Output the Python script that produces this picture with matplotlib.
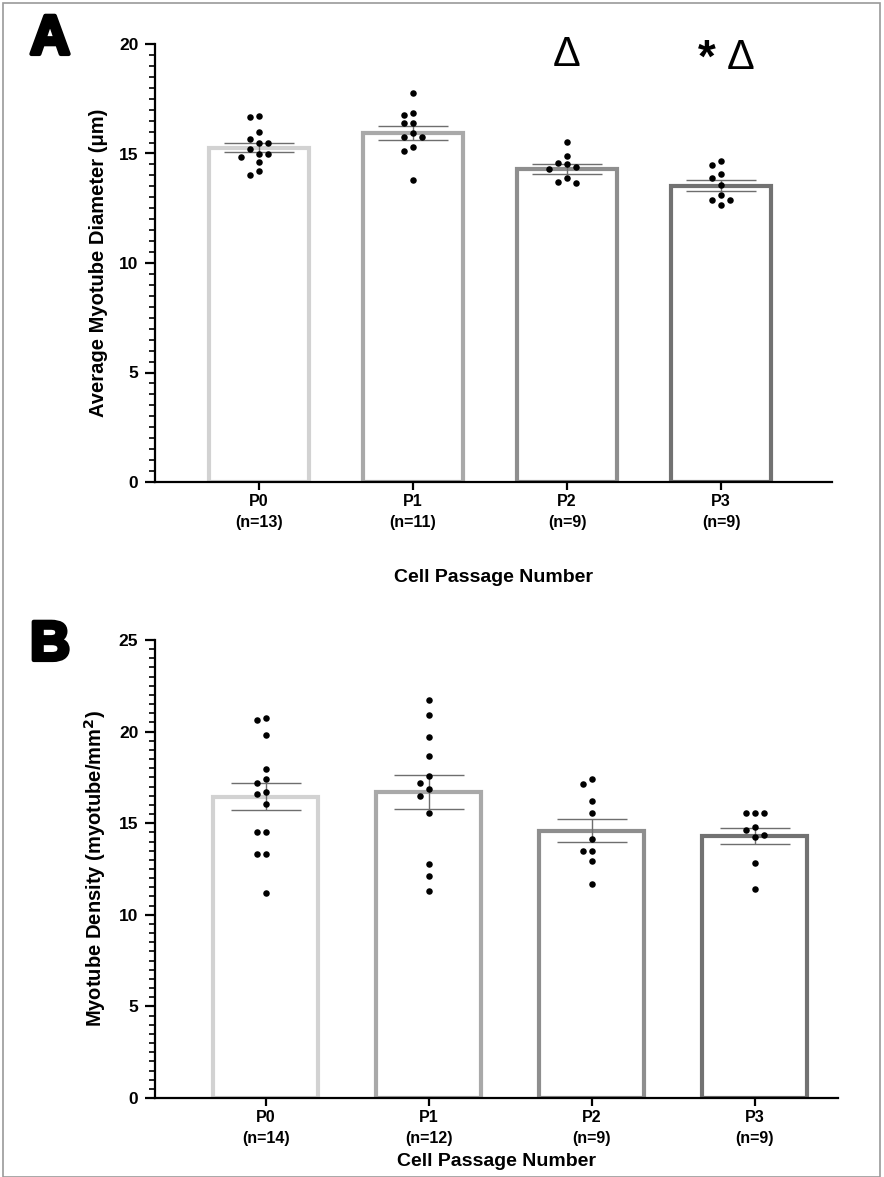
import matplotlib
matplotlib.use("Agg")
import matplotlib.pyplot as plt
import numpy as np
from matplotlib.patches import Rectangle
from matplotlib.ticker import MultipleLocator
import matplotlib.patheffects as pe

plt.rcParams['font.family'] = ['Liberation Sans', 'DejaVu Sans']

# ---- data ----
passages = ["P0", "P1", "P2", "P3"]
n_diam = [13, 11, 9, 9]
n_dens = [14, 12, 9, 9]

diam_mean = [15.27, 15.95, 14.30, 13.52]
diam_sem = [0.22, 0.32, 0.22, 0.25]
diam_p0 = [16.65, 16.72, 15.98, 15.65, 15.47, 15.47, 15.20, 14.98, 14.98, 14.86, 14.61, 14.21, 14.00]
diam_p1 = [17.75, 16.83, 16.77, 16.38, 16.38, 15.92, 15.74, 15.74, 15.31, 15.13, 13.79]
diam_p2 = [15.54, 14.90, 14.55, 14.50, 14.40, 14.28, 13.90, 13.64, 13.69]
diam_p3 = [14.68, 14.48, 14.07, 13.90, 13.56, 13.10, 12.88, 12.88, 12.64]

dens_mean = [16.45, 16.70, 14.60, 14.30]
dens_sem = [0.75, 0.93, 0.65, 0.43]
dens_p0 = [20.76, 20.63, 19.81, 17.94, 17.40, 17.21, 16.72, 16.59, 16.05, 14.54, 14.54, 13.3, 13.3, 11.2]
dens_p1 = [21.72, 20.92, 19.72, 18.65, 17.60, 17.20, 16.85, 16.48, 15.57, 12.8, 12.1, 11.3]
dens_p2 = [17.40, 17.15, 16.21, 15.57, 14.12, 13.48, 13.48, 12.94, 11.7]
dens_p3 = [15.57, 15.57, 15.57, 14.78, 14.63, 14.36, 14.23, 12.81, 11.4]

bar_colors = ["#d2d2d2", "#a9a9a9", "#8e8e8e", "#727272"]

W, H = 884, 1177
fig = plt.figure(figsize=(W / 100, H / 100), dpi=100)
fig.patches.append(Rectangle((3 / W, 0), (W - 7) / W, (H - 3) / H, transform=fig.transFigure,
                             fill=False, edgecolor="#9a9a9a", linewidth=1.2))


def swarm_offsets(vals, ymax, ax_h_px, unit_px, dot_px=8.0):
    """Simple beeswarm: spread points that would overlap vertically."""
    px_per_val = ax_h_px / ymax
    order = np.argsort(vals)[::-1]
    placed = []
    offs = np.zeros(len(vals))
    step = 0.55 * dot_px / unit_px * 2
    for i in order:
        y = vals[i] * px_per_val
        cands = [0.0]
        for k in range(1, 6):
            cands += [-k * step * 0.5, k * step * 0.5]
        for c in cands:
            ok = True
            for (pc, py) in placed:
                if abs((pc - c) * unit_px) < dot_px and abs(py - y) < dot_px:
                    ok = False
                    break
            if ok:
                offs[i] = c
                placed.append((c, y))
                break
    return offs


def panel(rect, xlim, means, sems, groups, ns, ymax, ylabel, bar_w):
    ax = fig.add_axes(rect)
    x = np.arange(len(passages))
    unit_px = rect[2] * W / (xlim[1] - xlim[0])
    ax.bar(x, means, width=bar_w, color="white", edgecolor=bar_colors, linewidth=3.0, zorder=1)
    ax_h_px = rect[3] * H
    for xi, vals in zip(x, groups):
        vals = np.array(vals)
        offs = swarm_offsets(vals, ymax, ax_h_px, unit_px)
        ax.scatter(xi + offs, vals, s=22, color="black", zorder=3, linewidths=0)
    ax.errorbar(x, means, yerr=sems, fmt="none", ecolor="#6e6e6e", elinewidth=1.0,
                capsize=25, capthick=1.0, zorder=2)
    ax.set_xlim(*xlim)
    ax.set_ylim(0, ymax)
    ax.yaxis.set_major_locator(MultipleLocator(5))
    ax.yaxis.set_minor_locator(MultipleLocator(0.5))
    ax.spines["top"].set_visible(False)
    ax.spines["right"].set_visible(False)
    for s in ("left", "bottom"):
        ax.spines[s].set_linewidth(1.6)
    ax.tick_params(axis="y", which="major", length=7, width=1.6, labelsize=12.5, pad=5)
    ax.tick_params(axis="y", which="minor", length=4, width=1.2)
    ax.tick_params(axis="x", length=6, width=1.6, labelsize=11.5, pad=3)
    for lab in ax.get_yticklabels():
        lab.set_fontweight("bold")
    ax.set_xticks(x)
    ax.set_xticklabels([f"{p}\n(n={n})" for p, n in zip(passages, ns)], fontweight="bold",
                       linespacing=1.5)
    ax.set_ylabel(ylabel, fontsize=14.5, fontweight="bold", labelpad=8)
    return ax


axA = panel([155 / W, 1 - 482 / H, (832 - 155) / W, (482 - 44) / H], (-0.675, 3.72),
            diam_mean, diam_sem, [diam_p0, diam_p1, diam_p2, diam_p3], n_diam, 20,
            "Average Myotube Diameter (\u03bcm)", 0.65)
axA.set_xlabel("Cell Passage Number", fontsize=14, fontweight="bold", labelpad=28)
axA.text(2, 19.5, "\u0394", fontsize=30, ha="center", va="center")
axA.text(2.91, 19.3, "*", fontsize=33, fontweight="bold", ha="center", va="center")
axA.text(3.13, 19.35, "\u0394", fontsize=30, ha="center", va="center")

axB = panel([155 / W, 1 - 1098 / H, (838 - 155) / W, (1098 - 640) / H], (-0.678, 3.51),
            dens_mean, dens_sem, [dens_p0, dens_p1, dens_p2, dens_p3], n_dens, 25,
            "Myotube Density (myotube/mm$^\\mathbf{2}$)", 0.645)
axB.set_xlabel("Cell Passage Number", fontsize=14, fontweight="bold", labelpad=5)

for letter, yy in (("A", 1 - 40 / H), ("B", 1 - 646 / H)):
    fig.text(30 / W, yy, letter, fontsize=40, fontweight="bold", ha="left", va="center",
             path_effects=[pe.withStroke(linewidth=3, foreground="black")])

fig.savefig("out.png", dpi=100)
